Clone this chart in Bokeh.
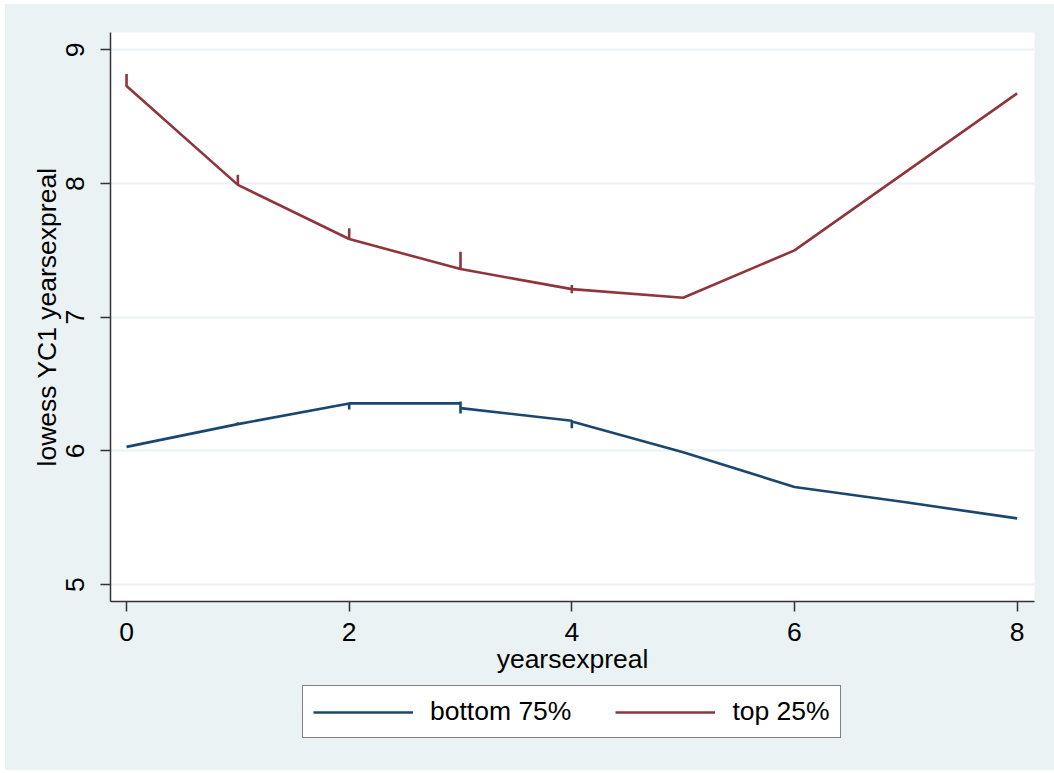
from bokeh.plotting import figure
from bokeh.layouts import column
from bokeh.models import Range1d, FixedTicker, Legend, LegendItem
from bokeh.embed import file_html
from bokeh.resources import INLINE

# Lowess-smoothed YC1 by years of experience, split by group.
# Several observations share the same x, so the smoothed path steps up/down at those x's.
bottom_x = [0, 1, 1, 1, 2, 2, 2, 3, 3, 3, 3, 4, 4, 4, 5, 6, 7, 8]
bottom_y = [6.03, 6.20, 6.215, 6.20, 6.355, 6.31, 6.355, 6.355, 6.37, 6.28, 6.32,
            6.225, 6.17, 6.22, 5.99, 5.73, 5.615, 5.495]

top_x = [0, 0, 1, 1, 1, 2, 2, 2, 3, 3, 3, 4, 4, 4, 4, 5, 6, 8]
top_y = [8.82, 8.73, 7.99, 8.065, 7.99, 7.585, 7.665, 7.585, 7.36, 7.49, 7.36,
         7.21, 7.24, 7.18, 7.21, 7.145, 7.50, 8.675]

series_labels = ["bottom 75%", "top 25%"]
x_ticks = [0, 2, 4, 6, 8]
y_ticks = [5, 6, 7, 8, 9]

NAVY = "#1a476f"
MAROON = "#90353b"
BG = "#eaf2f3"
FONT = "Liberation Sans"
FS = "26.5px"

# ---- main plot -------------------------------------------------------------
p = figure(frame_width=924, frame_height=569, output_backend="svg", toolbar_location=None,
           x_range=Range1d(-0.144, 8.156), y_range=Range1d(4.873, 9.13),
           min_border_left=105, min_border_right=20, min_border_top=28,
           min_border_bottom=81)

p.background_fill_color = "white"
p.border_fill_color = BG
p.outline_line_color = None

p.line(bottom_x, bottom_y, line_color=NAVY, line_width=2.6)
p.line(top_x, top_y, line_color=MAROON, line_width=2.6)

p.xgrid.grid_line_color = None
p.ygrid.grid_line_color = BG
p.ygrid.grid_line_width = 2
p.ygrid.ticker = FixedTicker(ticks=y_ticks)

for ax in (p.xaxis[0], p.yaxis[0]):
    ax.axis_line_color = "#333333"
    ax.axis_line_width = 1.5
    ax.major_tick_line_color = "#333333"
    ax.major_tick_line_width = 1.5
    ax.major_tick_out = 10
    ax.major_tick_in = 0
    ax.minor_tick_line_color = None
    ax.major_label_text_font = FONT
    ax.major_label_text_font_size = FS
    ax.major_label_text_color = "black"
    ax.axis_label_text_font = FONT
    ax.axis_label_text_font_size = FS
    ax.axis_label_text_font_style = "normal"
    ax.axis_label_text_color = "black"

p.xaxis.ticker = FixedTicker(ticks=x_ticks)
p.yaxis.ticker = FixedTicker(ticks=y_ticks)
p.xaxis.axis_label = "yearsexpreal"
p.yaxis.axis_label = "lowess YC1 yearsexpreal"
p.xaxis.major_label_standoff = 11
p.xaxis.axis_label_standoff = 0
p.yaxis.major_label_orientation = "vertical"
p.yaxis.major_label_standoff = 16
p.yaxis.axis_label_standoff = 2

# ---- legend strip (same frame columns as the main plot) --------------------
# The key strip reuses the series; its ranges keep the lines out of view so
# only the legend shows.
key = figure(frame_width=924, height=88, output_backend="svg", toolbar_location=None,
             min_border_left=105, min_border_right=20, min_border_top=0,
             min_border_bottom=0, x_range=Range1d(0, 1), y_range=Range1d(0, 1))
key.axis.visible = False
key.grid.grid_line_color = None
key.outline_line_color = None
key.background_fill_color = BG
key.border_fill_color = BG

k_bottom = key.line(bottom_x, bottom_y, line_color=NAVY, line_width=2.6)
k_top = key.line(top_x, top_y, line_color=MAROON, line_width=2.6)

legend = Legend(
    items=[LegendItem(label=series_labels[0], renderers=[k_bottom]),
           LegendItem(label=series_labels[1], renderers=[k_top])],
    orientation="horizontal",
    location=(192, 32),
    label_text_font=FONT,
    label_text_font_size=FS,
    label_text_color="black",
    glyph_width=100,
    glyph_height=24,
    label_height=24,
    label_standoff=17,
    spacing=44,
    padding=10,
    margin=0,
    border_line_color="black",
    border_line_width=1,
    background_fill_color="white",
    background_fill_alpha=1.0,
)
key.add_layout(legend, "center")

page = column(p, key, width=1049, height=766, margin=(4, 0, 0, 5), spacing=0,
              styles={"background-color": BG})

open("out.html", "w").write(file_html(page, INLINE))
